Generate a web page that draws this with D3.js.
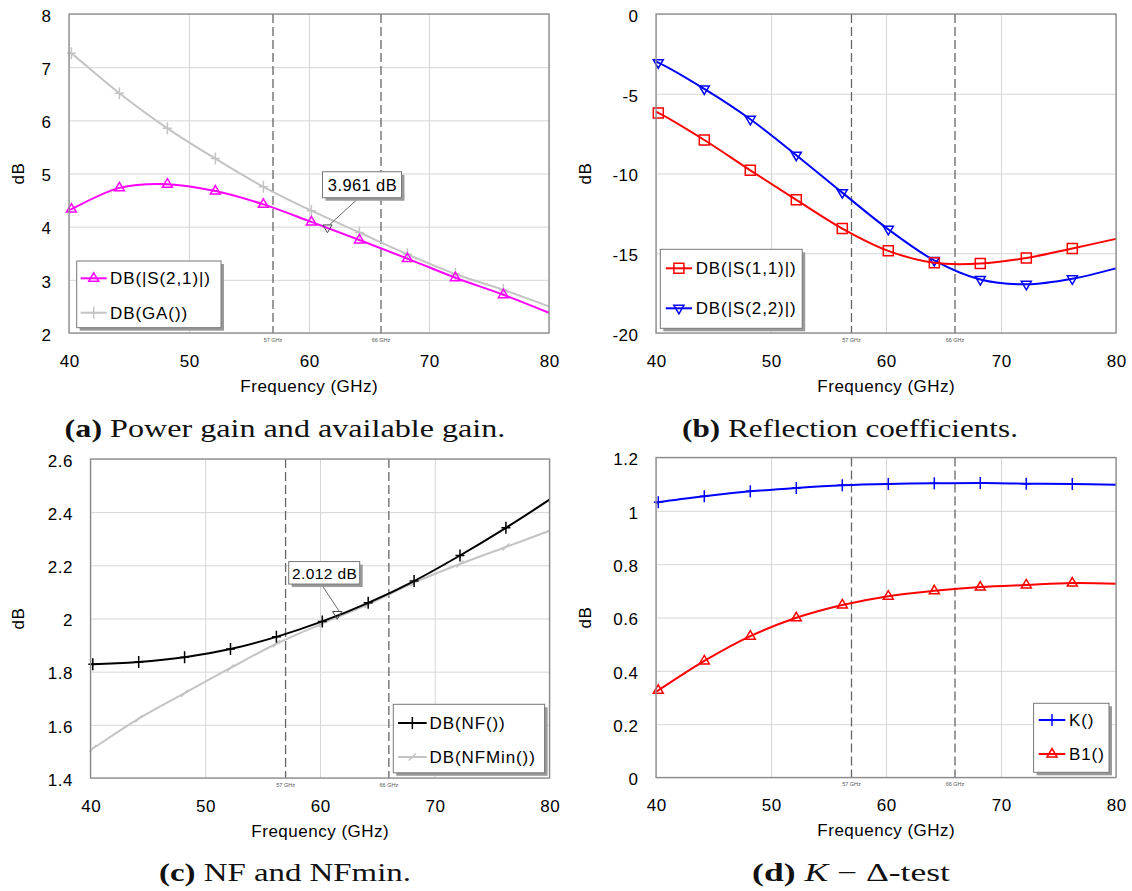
<!DOCTYPE html>
<html>
<head>
<meta charset="utf-8">
<script src="https://cdn.jsdelivr.net/npm/d3@7"></script>
<style>
  body { margin: 0; background: #fff; }
  svg { display: block; }
</style>
</head>
<body>
<svg id="fig" width="1132" height="891"></svg>
<script>
// ---- simulated LNA results, 40–80 GHz ----
// frequency points (GHz) shared by every trace
const freqs = [40, 40.2, 44.2, 48.2, 52.2, 56.2, 60.2, 64.2, 68.2, 72.2, 76.2, 80];
// frequencies where a trace symbol is drawn
const symbolFreqs = [40.2, 44.2, 48.2, 52.2, 56.2, 60.2, 64.2, 68.2, 72.2, 76.2];

// (a) power gain and available gain, dB
const s21 = [4.31, 4.33, 4.73, 4.80, 4.67, 4.42, 4.09, 3.75, 3.40, 3.04, 2.72, 2.38];
const ga  = [7.29, 7.26, 6.51, 5.85, 5.28, 4.75, 4.30, 3.89, 3.48, 3.11, 2.81, 2.50];
// (b) reflection coefficients, dB
const s11 = [-6.15, -6.2, -7.9, -9.8, -11.65, -13.45, -14.85, -15.6, -15.65, -15.3, -14.7, -14.1];
const s22 = [-3.0, -3.05, -4.7, -6.6, -8.85, -11.2, -13.5, -15.45, -16.65, -16.95, -16.6, -15.95];
// (c) noise figure and minimum noise figure, dB
const nf    = [1.828, 1.828, 1.836, 1.854, 1.885, 1.931, 1.989, 2.059, 2.141, 2.237, 2.341, 2.447];
const nfMin = [1.506, 1.511, 1.623, 1.719, 1.814, 1.905, 1.981, 2.053, 2.135, 2.205, 2.269, 2.330];
// (d) stability factor K and B1
const kFactor = [1.030, 1.032, 1.055, 1.073, 1.086, 1.096, 1.101, 1.103, 1.104, 1.102, 1.101, 1.098];
const b1      = [0.322, 0.327, 0.437, 0.530, 0.599, 0.647, 0.680, 0.700, 0.714, 0.722, 0.729, 0.727];

// axes
const xTicks = [40, 50, 60, 70, 80];
const gainTicks  = [2, 3, 4, 5, 6, 7, 8];
const reflTicks  = [-20, -15, -10, -5, 0];
const noiseTicks = [1.4, 1.6, 1.8, 2, 2.2, 2.4, 2.6];
const stabTicks  = [0, 0.2, 0.4, 0.6, 0.8, 1, 1.2];

// band edges of the 60 GHz band
const bandEdges  = [57, 66];
const bandLabels = ["57 GHz", "66 GHz"];

// readout markers
const gainMarker  = { freq: 61.54, value: 3.961, unit: "dB" };
const noiseMarker = { freq: 61.5,  value: 2.012, unit: "dB" };

// ---- drawing ----
const svg = d3.select("#fig");
const SANS = "'Liberation Sans', Arial, sans-serif";
const SERIF = "'Liberation Serif', 'Times New Roman', serif";
const FS = 17;
const LS = "0.5px";

const symbolPath = {
  triUp:   "M0,-5.5L5,3L-5,3Z",
  triDown: "M0,5.5L5,-3L-5,-3Z",
  square:  "M-5,-5H5V5H-5Z",
  plus:    "M0,-6V6M-4.5,0H4.5",
  slash:   "M-3.5,3.5L3.5,-3.5"
};

const panels = [
  {
    left: 69, right: 549, top: 14, bottom: 333, yDomain: [2, 8], yTicks: gainTicks, yLabelX: 18,
    series: [
      { name: "DB(|S(2,1)|)", values: s21, color: "#ff00ff", symbol: "triUp" },
      { name: "DB(GA())",     values: ga,  color: "#c4c4c4", symbol: "plus" }
    ],
    legend: { x0: 76.7, x1: 221, y0: 261, y1: 327.7, rows: [278.3, 312.7], lineX: [80.7, 106.7], textX: 110 },
    readout: { m: gainMarker, dx: 34.5, dy: -44, w: 79, h: 26, fs: 16.5 }
  },
  {
    left: 656, right: 1116, top: 14, bottom: 333, yDomain: [-20, 0], yTicks: reflTicks, yLabelX: 585.5,
    series: [
      { name: "DB(|S(1,1)|)", values: s11, color: "#ff0000", symbol: "square" },
      { name: "DB(|S(2,2)|)", values: s22, color: "#0000ff", symbol: "triDown" }
    ],
    legend: { x0: 660.3, x1: 802.2, y0: 249.3, y1: 328.3, rows: [268.3, 308.3], lineX: [665.8, 692], textX: 695.7 }
  },
  {
    left: 90.5, right: 549.5, top: 459, bottom: 778, yDomain: [1.4, 2.6], yTicks: noiseTicks, yLabelX: 18,
    series: [
      { name: "DB(NF())",    values: nf,    color: "#000000", symbol: "plus" },
      { name: "DB(NFMin())", values: nfMin, color: "#c4c4c4", symbol: "slash" }
    ],
    legend: { x0: 393.3, x1: 544.6, y0: 704.3, y1: 772.8, rows: [723, 757], lineX: [398, 426.7], textX: 429.5 },
    readout: { m: noiseMarker, dx: -13, dy: -42.5, w: 71, h: 22.5, fs: 15.5 }
  },
  {
    left: 656, right: 1116, top: 457.5, bottom: 777.5, yDomain: [0, 1.2], yTicks: stabTicks, yLabelX: 585.5,
    series: [
      { name: "K()",  values: kFactor, color: "#0000ff", symbol: "plus" },
      { name: "B1()", values: b1,      color: "#ff0000", symbol: "triUp" }
    ],
    legend: { x0: 1033.6, x1: 1109, y0: 703.3, y1: 772.3, rows: [720, 754], lineX: [1038.7, 1065.3], textX: 1069 }
  }
];

function drawPanel(p) {
  const g = svg.append("g");
  const x = d3.scaleLinear().domain([40, 80]).range([p.left, p.right]);
  const y = d3.scaleLinear().domain(p.yDomain).range([p.bottom, p.top]);
  const w = p.right - p.left, h = p.bottom - p.top;

  // white plot area
  g.append("rect").attr("x", p.left).attr("y", p.top).attr("width", w).attr("height", h).attr("fill", "#fff");

  // grid
  g.append("g").attr("transform", `translate(0,${p.bottom})`)
    .call(d3.axisBottom(x).tickValues(xTicks).tickSize(-h).tickFormat(""))
    .call(s => s.select(".domain").remove())
    .selectAll("line").attr("stroke", "#d6d6d6").attr("stroke-width", 1);
  g.append("g").attr("transform", `translate(${p.left},0)`)
    .call(d3.axisLeft(y).tickValues(p.yTicks).tickSize(-w).tickFormat(""))
    .call(s => s.select(".domain").remove())
    .selectAll("line").attr("stroke", "#d6d6d6").attr("stroke-width", 1);

  // tick labels
  const xa = g.append("g").attr("transform", `translate(0,${p.bottom})`)
    .call(d3.axisBottom(x).tickValues(xTicks).tickSize(0).tickPadding(21.8).tickFormat(d => String(d)));
  xa.select(".domain").remove();
  xa.selectAll("text").attr("font-family", SANS).attr("font-size", FS).attr("fill", "#000")
    .style("letter-spacing", LS).attr("dx", "0.25px");
  const ya = g.append("g").attr("transform", `translate(${p.left},0)`)
    .call(d3.axisLeft(y).tickValues(p.yTicks).tickSize(0).tickPadding(17.5).tickFormat(d => String(d)));
  ya.select(".domain").remove();
  ya.selectAll("text").attr("font-family", SANS).attr("font-size", FS).attr("fill", "#000")
    .attr("dy", "0.43em").style("letter-spacing", LS);

  // axis titles
  g.append("text").attr("x", (p.left + p.right) / 2 + 0.3).attr("y", p.bottom + 58.7)
    .attr("text-anchor", "middle").attr("font-family", SANS).attr("font-size", FS)
    .style("letter-spacing", LS).text("Frequency (GHz)");
  g.append("text").attr("transform", `translate(${p.yLabelX},${(p.top + p.bottom) / 2}) rotate(-90)`)
    .attr("text-anchor", "middle").attr("dominant-baseline", "central")
    .attr("font-family", SANS).attr("font-size", FS).style("letter-spacing", LS).text("dB");

  // band edge lines
  g.append("g").selectAll("line").data(bandEdges).join("line")
    .attr("x1", d => x(d)).attr("x2", d => x(d)).attr("y1", p.top).attr("y2", p.bottom)
    .attr("stroke", "#666").attr("stroke-width", 1.3).attr("stroke-dasharray", "9,4");
  g.append("g").selectAll("text").data(bandEdges).join("text")
    .attr("x", d => x(d)).attr("y", p.bottom + 8.5).attr("text-anchor", "middle")
    .attr("font-family", SANS).attr("font-size", 5.5).attr("fill", "#555")
    .text((d, i) => bandLabels[i]);

  // traces (first trace ends up on top)
  const line = d3.line().x(d => x(d.f)).y(d => y(d.v)).curve(d3.curveCatmullRom.alpha(0.5));
  const traces = p.series.map(s => ({ ...s, pts: freqs.map((f, i) => ({ f, v: s.values[i] })) }));
  const tg = g.append("g");
  traces.slice().reverse().forEach(s => {
    tg.append("path").datum(s.pts).attr("d", line).attr("fill", "none")
      .attr("stroke", s.color).attr("stroke-width", 2);
    tg.append("g").selectAll("path")
      .data(s.pts.filter(d => symbolFreqs.includes(d.f))).join("path")
      .attr("transform", d => `translate(${x(d.f)},${y(d.v)})`)
      .attr("d", symbolPath[s.symbol]).attr("fill", "none")
      .attr("stroke", s.color).attr("stroke-width", 1.5);
  });

  // frame
  g.append("rect").attr("x", p.left).attr("y", p.top).attr("width", w).attr("height", h)
    .attr("fill", "none").attr("stroke", "#8a8a8a").attr("stroke-width", 1.3);

  // readout marker
  if (p.readout) {
    const r = p.readout;
    const mx = x(r.m.freq), my = y(r.m.value);
    const bx = mx + r.dx, by = my + r.dy;
    const rg = g.append("g");
    rg.append("line").attr("x1", mx + 2).attr("y1", my - 4).attr("x2", bx - 3).attr("y2", by + r.h / 2)
      .attr("stroke", "#444").attr("stroke-width", 0.8);
    rg.append("path").attr("transform", `translate(${mx},${my})`)
      .attr("d", "M0,4L4.6,-3.8L-4.6,-3.8Z").attr("fill", "none").attr("stroke", "#444").attr("stroke-width", 1);
    rg.append("rect").attr("x", bx - r.w / 2 + 3).attr("y", by - r.h / 2 + 3).attr("width", r.w).attr("height", r.h)
      .attr("fill", "#9a9a9a");
    rg.append("rect").attr("x", bx - r.w / 2).attr("y", by - r.h / 2).attr("width", r.w).attr("height", r.h)
      .attr("fill", "#fff").attr("stroke", "#777").attr("stroke-width", 1);
    rg.append("text").attr("x", bx + 0.5).attr("y", by + 0.5).attr("text-anchor", "middle")
      .attr("dominant-baseline", "central").attr("font-family", SANS).attr("font-size", r.fs)
      .style("letter-spacing", "0.4px").text(`${r.m.value.toFixed(3)} ${r.m.unit}`);
  }

  // legend
  const L = p.legend;
  const lg = g.append("g");
  lg.append("rect").attr("x", L.x0 + 3).attr("y", L.y0 + 3).attr("width", L.x1 - L.x0).attr("height", L.y1 - L.y0)
    .attr("fill", "#9a9a9a");
  lg.append("rect").attr("x", L.x0).attr("y", L.y0).attr("width", L.x1 - L.x0).attr("height", L.y1 - L.y0)
    .attr("fill", "#fff").attr("stroke", "#777").attr("stroke-width", 1);
  traces.forEach((s, i) => {
    const ry = L.rows[i];
    lg.append("line").attr("x1", L.lineX[0]).attr("x2", L.lineX[1]).attr("y1", ry).attr("y2", ry)
      .attr("stroke", s.color).attr("stroke-width", 2);
    lg.append("path").attr("transform", `translate(${(L.lineX[0] + L.lineX[1]) / 2},${ry})`)
      .attr("d", symbolPath[s.symbol]).attr("fill", "none").attr("stroke", s.color).attr("stroke-width", 1.5);
    lg.append("text").attr("x", L.textX).attr("y", ry + 0.5).attr("dominant-baseline", "central")
      .attr("font-family", SANS).attr("font-size", FS).style("letter-spacing", "0.9px").text(s.name);
  });
}

panels.forEach(drawPanel);

// sub-figure captions
const captions = [
  { cx: 285, y: 437,   width: 441, parts: [["(a)", "bold"], [" Power gain and available gain.", ""]] },
  { cx: 850, y: 437,   width: 336, parts: [["(b)", "bold"], [" Reflection coefficients.", ""]] },
  { cx: 285, y: 880.5, width: 252, parts: [["(c)", "bold"], [" NF and NFmin.", ""]] },
  { cx: 851, y: 880.5, width: 198, parts: [["(d)", "bold"], [" ", ""], ["K", "italic"], [" \u2212 \u0394-test", ""]] }
];
captions.forEach(c => {
  const t = svg.append("text").attr("x", 0).attr("y", 0).attr("text-anchor", "middle")
    .attr("font-family", SERIF).attr("font-size", 25).attr("fill", "#111");
  c.parts.forEach(([str, style]) => {
    const ts = t.append("tspan").text(str);
    if (style === "bold") ts.attr("font-weight", "bold");
    if (style === "italic") ts.attr("font-style", "italic");
  });
  const natural = t.node().getComputedTextLength();
  const sx = natural > 0 ? c.width / natural : 1;
  t.attr("transform", `translate(${c.cx},${c.y}) scale(${sx},1)`);
});
</script>
</body>
</html>
